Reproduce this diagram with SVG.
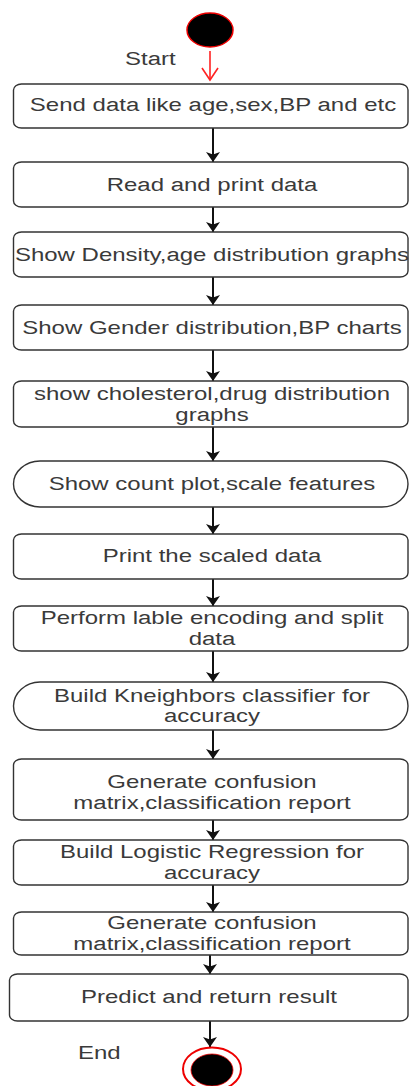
<svg xmlns="http://www.w3.org/2000/svg" width="409" height="1086" viewBox="0 0 409 1086">
<style>
.box{fill:#fff;stroke:#333;stroke-width:1.4}
.t{font-family:"Liberation Sans",Arial,sans-serif;font-size:24px;fill:#3a3a3a;text-anchor:middle}
.lbl{font-family:"Liberation Sans",Arial,sans-serif;font-size:24px;fill:#3a3a3a}
.edge{stroke:#111;stroke-width:2;fill:none}
</style>
<defs>
<marker id="ah" viewBox="0 0 10 14" refX="10" refY="7" markerWidth="10" markerHeight="14" markerUnits="userSpaceOnUse" orient="auto">
<path d="M0,0 L10,7 L0,14 L2.5,7 z" fill="#111"/>
</marker>
</defs>
<rect width="409" height="1086" fill="#fff"/>
<g id="start">
<ellipse cx="210" cy="30" rx="23" ry="17" fill="#000" stroke="#e00" stroke-width="1.5"/>
<text class="lbl" transform="translate(125 65) scale(1 0.77)">Start</text>
</g>
<g id="connectors">
<g stroke="#f22" stroke-width="1.6" fill="none">
<line x1="210" y1="51" x2="210" y2="80"/>
<polyline points="202,68 210,80 218,68"/>
</g>
<line class="edge" x1="213" y1="128" x2="213" y2="162" marker-end="url(#ah)"/>
<line class="edge" x1="213" y1="207" x2="213" y2="232" marker-end="url(#ah)"/>
<line class="edge" x1="213" y1="277" x2="213" y2="305" marker-end="url(#ah)"/>
<line class="edge" x1="213" y1="350" x2="213" y2="381" marker-end="url(#ah)"/>
<line class="edge" x1="213" y1="427" x2="213" y2="461" marker-end="url(#ah)"/>
<line class="edge" x1="213" y1="507" x2="213" y2="534" marker-end="url(#ah)"/>
<line class="edge" x1="213" y1="579" x2="213" y2="606" marker-end="url(#ah)"/>
<line class="edge" x1="213" y1="651" x2="213" y2="682" marker-end="url(#ah)"/>
<line class="edge" x1="213" y1="730" x2="213" y2="759" marker-end="url(#ah)"/>
<line class="edge" x1="213" y1="820" x2="213" y2="840" marker-end="url(#ah)"/>
<line class="edge" x1="213" y1="885" x2="213" y2="912" marker-end="url(#ah)"/>
<line class="edge" x1="210" y1="955" x2="210" y2="974" marker-end="url(#ah)"/>
<line class="edge" x1="210" y1="1021" x2="210" y2="1047" marker-end="url(#ah)"/>
</g>
<g id="n1"><rect class="box" x="13.5" y="84" width="394.5" height="44" rx="8" ry="6"/>
<text class="t" transform="translate(213 111) scale(1 0.77)">Send data like age,sex,BP and etc</text></g>
<g id="n2"><rect class="box" x="13.5" y="162" width="394.5" height="45" rx="8" ry="6"/>
<text class="t" transform="translate(212 191) scale(1 0.77)">Read and print data</text></g>
<g id="n3"><rect class="box" x="13.5" y="232" width="394.5" height="45" rx="8" ry="6"/>
<text class="t" transform="translate(212 261) scale(1 0.77)">Show Density,age distribution graphs</text></g>
<g id="n4"><rect class="box" x="13.5" y="305" width="394.5" height="45" rx="8" ry="6"/>
<text class="t" transform="translate(212 334) scale(1 0.77)">Show Gender distribution,BP charts</text></g>
<g id="n5"><rect class="box" x="13.5" y="381" width="394.5" height="46" rx="8" ry="6"/>
<text class="t" transform="translate(212 400) scale(1 0.77)">show cholesterol,drug distribution</text>
<text class="t" transform="translate(212 421) scale(1 0.77)">graphs</text></g>
<g id="n6"><path class="box" d="M40,461 H382 A26 23 0 0 1 408 484 A26 23 0 0 1 382 507 H40 A27 23 0 0 1 13.5 484 A27 23 0 0 1 40 461 Z"/>
<text class="t" transform="translate(212 490) scale(1 0.77)">Show count plot,scale features</text></g>
<g id="n7"><rect class="box" x="13.5" y="534" width="394.5" height="45" rx="8" ry="6"/>
<text class="t" transform="translate(212 562) scale(1 0.77)">Print the scaled data</text></g>
<g id="n8"><rect class="box" x="13.5" y="606" width="394.5" height="45" rx="8" ry="6"/>
<text class="t" transform="translate(212 624) scale(1 0.77)">Perform lable encoding and split</text>
<text class="t" transform="translate(212 645) scale(1 0.77)">data</text></g>
<g id="n9"><path class="box" d="M40,682 H382 A26 24 0 0 1 408 706 A26 24 0 0 1 382 730 H40 A27 24 0 0 1 13.5 706 A27 24 0 0 1 40 682 Z"/>
<text class="t" transform="translate(212 702) scale(1 0.77)">Build Kneighbors classifier for</text>
<text class="t" transform="translate(212 722) scale(1 0.77)">accuracy</text></g>
<g id="n10"><rect class="box" x="13.5" y="759" width="394.5" height="61" rx="8" ry="6"/>
<text class="t" transform="translate(212 788) scale(1 0.77)">Generate confusion</text>
<text class="t" transform="translate(212 809) scale(1 0.77)">matrix,classification report</text></g>
<g id="n11"><rect class="box" x="13.5" y="840" width="394.5" height="45" rx="8" ry="6"/>
<text class="t" transform="translate(212 858) scale(1 0.77)">Build Logistic Regression for</text>
<text class="t" transform="translate(212 879) scale(1 0.77)">accuracy</text></g>
<g id="n12"><rect class="box" x="13.5" y="912" width="394.5" height="43" rx="8" ry="6"/>
<text class="t" transform="translate(212 929) scale(1 0.77)">Generate confusion</text>
<text class="t" transform="translate(212 950) scale(1 0.77)">matrix,classification report</text></g>
<g id="n13"><rect class="box" x="9.5" y="974" width="398.5" height="47" rx="8" ry="6"/>
<text class="t" transform="translate(209 1003) scale(1 0.77)">Predict and return result</text></g>
<g id="end">
<ellipse cx="212" cy="1069" rx="29" ry="21.5" fill="#fff" stroke="#e00" stroke-width="2"/>
<ellipse cx="212" cy="1070" rx="21" ry="16" fill="#000" stroke="#e00" stroke-width="0.8"/>
<text class="lbl" transform="translate(78 1059) scale(1 0.77)">End</text>
</g>
</svg>
